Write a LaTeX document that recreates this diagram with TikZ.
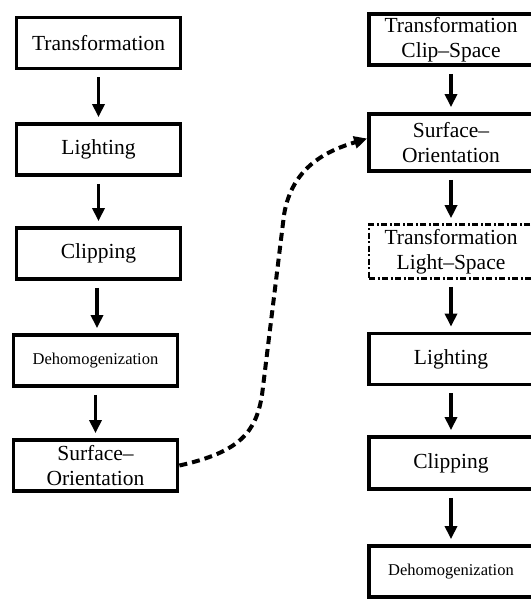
\documentclass[tikz,border=0pt]{standalone}
\usepackage{fontspec}
\setmainfont{Liberation Serif}
\usetikzlibrary{arrows.meta}
\begin{document}
\begin{tikzpicture}[x=1pt,y=-1pt,
  stage/.style={draw, line width=3.8pt, minimum width=164pt, minimum height=51pt,
    inner sep=0pt, align=center, font=\fontsize{21.5}{25}\selectfont},
  small/.style={font=\fontsize{16.5}{20}\selectfont},
  optional/.style={stage, line width=2.6pt, dash pattern=on 6pt off 2.5pt on 2pt off 2.5pt},
  flow/.style={line width=3.5pt, shorten <=7pt, shorten >=5pt,
    -{Triangle[length=13pt,width=12pt]}},
  jump/.style={line width=4pt, dash pattern=on 8pt off 5pt,
    -{Triangle[length=13pt,width=12pt]}}]
\useasboundingbox (0,0) rectangle (530,599);
\fill[white] (0,0) rectangle (530,599);

% fixed-function pipeline
\node[stage] (a1) at (98.5,43) {Transformation};
\node[stage] (a2) at (98.5,149.5) {Lighting};
\node[stage] (a3) at (98.5,253.5) {Clipping};
\node[stage,small] (a4) at (95.5,360.5) {Dehomogenization};
\node[stage] (a5) at (95.5,465.5) {Surface--\\Orientation};

% reordered pipeline
\node[stage] (b1) at (451,39.5) {Transformation\\Clip--Space};
\node[stage, minimum height=57pt] (b2) at (451,142.5) {Surface--\\Orientation};
\node[optional, minimum height=54pt] (b3) at (451,251.5) {Transformation\\Light--Space};
\node[stage] (b4) at (451,359) {Lighting};
\node[stage, minimum height=52pt] (b5) at (451,463) {Clipping};
\node[stage,small] (b6) at (451,571.5) {Dehomogenization};

\draw[flow] (a1) -- (a2);
\draw[flow] (a2) -- (a3);
\draw[flow] ([xshift=-1.5pt]a3.south) -- ([xshift=-1.5pt]a3.south |- a4.north);
\draw[flow] (a4) -- (a5);

\draw[flow] (b1) -- (b2);
\draw[flow] (b2) -- (b3);
\draw[flow] (b3) -- (b4);
\draw[flow] (b4) -- (b5);
\draw[flow] (b5) -- (b6);

% surface orientation moved ahead of lighting
\draw[jump] (a5.east) .. controls (240,452) and (256,432) .. (262,395)
  -- (284,215) .. controls (292,165) and (330,150) .. ([yshift=4pt]b2.west);
\end{tikzpicture}
\end{document}
